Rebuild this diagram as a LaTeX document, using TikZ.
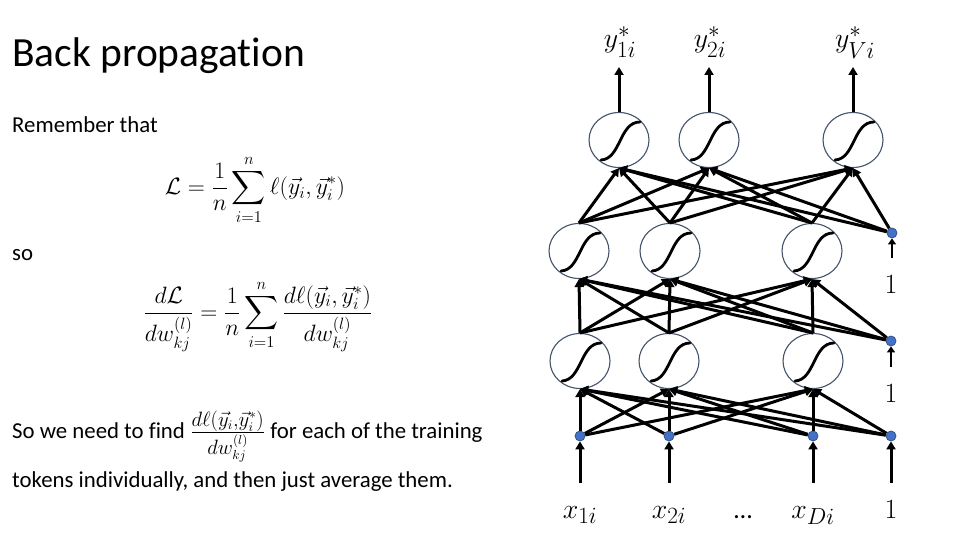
\documentclass[tikz,border=0pt]{standalone}
\usepackage{amsmath}
\usepackage{fontspec}
\setmainfont[Ligatures=NoCommon]{Carlito}
\usetikzlibrary{shapes.geometric,arrows.meta}
\definecolor{ringcol}{HTML}{44546A}
\definecolor{dotfill}{HTML}{4472C4}
\definecolor{dotedge}{HTML}{2F528F}
\newcommand{\biglab}[1]{\scalebox{1.12}{#1}}
\newcommand{\eqscale}[1]{\scalebox{1.14}{#1}}
\tikzset{
 unit/.style={ellipse, draw=ringcol, line width=1.1pt, minimum width=60pt, minimum height=55pt, inner sep=0pt, fill=white},
 dotnode/.style={circle, fill=dotfill, draw=dotedge, line width=0.8pt, minimum size=10pt, inner sep=0pt},
 conn/.style={line width=3pt, -{Triangle[length=8pt,width=9pt]}},
 bconn/.style={line width=2.6pt, -{Triangle[length=6pt,width=8pt]}},
 sig/.style={line width=2.8pt, line cap=round},
 body/.style={font=\fontsize{22.8}{27}\selectfont, anchor=base west, inner sep=0pt},
 eqn/.style={font=\fontsize{20.74}{25}\selectfont, inner sep=0pt},
 lab/.style={font=\fontsize{24.88}{30}\selectfont, anchor=base, inner sep=0pt},
}
\begin{document}
\begin{tikzpicture}[x=1pt,y=-1pt]
\useasboundingbox (0,0) rectangle (960,540);
% left text
\node[font=\fontsize{41.5}{48}\selectfont, anchor=base west, inner sep=0pt] (title) at (12,67) {Back propagation};
\node[body] (rem) at (12,133) {Remember that};
\node[eqn] (eq1) at (255,190) {\eqscale{$\displaystyle \mathcal{L}=\frac{1}{n}\sum_{i=1}^{n}\ell(\vec{y}_i,\vec{y}_i^{*})$}};
\node[body] (so) at (12,260) {so};
\node[eqn] (eq2) at (258,316) {\eqscale{$\displaystyle \frac{d\mathcal{L}}{dw_{kj}^{(l)}}=\frac{1}{n}\sum_{i=1}^{n}\frac{d\ell(\vec{y}_i,\vec{y}_i^{*})}{dw_{kj}^{(l)}}$}};
\node[body] (need) at (12,438) {So we need to find \raisebox{-1pt}{\scalebox{1.2}{$\frac{d\ell(\vec{y}_i,\vec{y}_i^{*})}{dw_{kj}^{(l)}}$}} for each of the training};
\node[body] (tok) at (12,487) {tokens individually, and then just average them.};
% network units
\node[unit] (o1) at (619,140) {};
\node[unit] (o2) at (709,140) {};
\node[unit] (o3) at (853,140) {};
\node[unit] (u1) at (579,251) {};
\node[unit] (u2) at (670,251) {};
\node[unit] (u3) at (812,251) {};
\node[dotnode] (ub) at (892,233) {};
\node[unit] (h1) at (580,361) {};
\node[unit] (h2) at (669,361) {};
\node[unit] (h3) at (813,361) {};
\node[dotnode] (hb) at (891,341) {};
\node[dotnode] (i1) at (580,436) {};
\node[dotnode] (i2) at (669,436) {};
\node[dotnode] (i3) at (813,436) {};
\node[dotnode] (ib) at (891,436) {};
% sigmoids
\foreach \n in {o1,o2,o3,u1,u2,u3,h1,h2,h3}
  \draw[sig, shift={(\n.center)}] (-18,20) .. controls (2,19) and (0,-18) .. (21,-18);
% labels
\node[lab] (ly1) at (620,48) {\biglab{$y_{1i}^{*}$}};
\node[lab] (ly2) at (710,48) {\biglab{$y_{2i}^{*}$}};
\node[lab] (ly3) at (855,48) {\biglab{$y_{Vi}^{*}$}};
\node[lab] (one1) at (891,293) {\biglab{$1$}};
\node[lab] (one2) at (891,402) {\biglab{$1$}};
\node[lab] (lx1) at (580,518) {\biglab{$x_{1i}$}};
\node[lab] (lx2) at (669,518) {\biglab{$x_{2i}$}};
\node[lab, font=\fontsize{26}{30}\selectfont] (ldots) at (743,518) {…};
\node[lab] (lx3) at (813,518) {\biglab{$x_{Di}$}};
\node[lab] (lx4) at (891,518) {\biglab{$1$}};
% free ends
\coordinate (t1) at (619,67);
\coordinate (t2) at (709,67);
\coordinate (t3) at (853,67);
\coordinate (s1) at (580,483);
\coordinate (s2) at (669,483);
\coordinate (s3) at (813,483);
\coordinate (s4) at (891,483);
\coordinate (ubs) at (892,258);
\coordinate (hbs) at (891,367);
% connections
\foreach \s in {i1,i2,i3,ib} \foreach \t in {h1,h2,h3} \draw[conn] (\s) -- (\t.south);
\foreach \s in {h1,h2,h3} \foreach \t in {u1,u2,u3} \draw[conn] (\s.north) -- (\t.south);
\foreach \t in {u1,u2,u3} \draw[conn] (hb) -- (\t.south);
\foreach \s in {u1,u2,u3} \foreach \t in {o1,o2,o3} \draw[conn] (\s.north) -- (\t.south);
\foreach \t in {o1,o2,o3} \draw[conn] (ub) -- (\t.south);
\draw[conn] (o1.north) -- (t1);
\draw[conn] (o2.north) -- (t2);
\draw[conn] (o3.north) -- (t3);
\draw[conn] (s1) -- (i1);
\draw[conn] (s2) -- (i2);
\draw[conn] (s3) -- (i3);
\draw[conn] (s4) -- (ib);
\draw[bconn] (ubs) -- (ub);
\draw[bconn] (hbs) -- (hb);
\end{tikzpicture}
\end{document}
